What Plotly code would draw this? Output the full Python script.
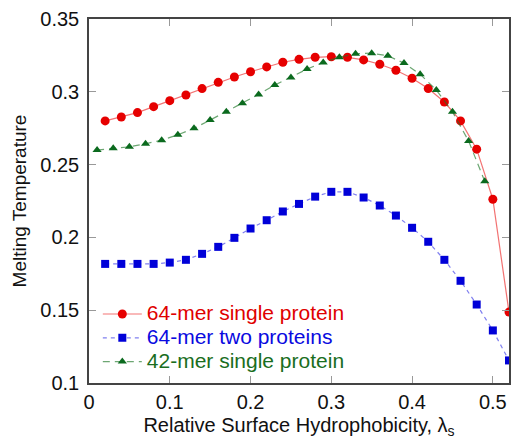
import plotly.graph_objects as go

# ---- data ----
x_even = [0.02, 0.04, 0.06, 0.08, 0.10, 0.12, 0.14, 0.16, 0.18, 0.20, 0.22, 0.24, 0.26,
          0.28, 0.30, 0.32, 0.34, 0.36, 0.38, 0.40, 0.42, 0.44, 0.46, 0.48, 0.50, 0.52]
y_single64 = [0.2800, 0.2827, 0.2857, 0.2898, 0.2939, 0.2978, 0.3022, 0.3065, 0.3102, 0.3138,
              0.3171, 0.3203, 0.3223, 0.3237, 0.3241, 0.3237, 0.3219, 0.3189, 0.3148, 0.3093,
              0.3022, 0.2930, 0.2800, 0.2606, 0.2262, 0.1487]
y_two64 = [0.1818, 0.1818, 0.1818, 0.1818, 0.1827, 0.1846, 0.1887, 0.1935, 0.1997, 0.2061,
           0.2118, 0.2178, 0.2230, 0.2280, 0.2313, 0.2313, 0.2274, 0.2219, 0.2150, 0.2066,
           0.1970, 0.1846, 0.1702, 0.1539, 0.1361, 0.1155]
x_odd = [0.01, 0.03, 0.05, 0.07, 0.09, 0.11, 0.13, 0.15, 0.17, 0.19, 0.21, 0.23, 0.25,
         0.27, 0.29, 0.31, 0.33, 0.35, 0.37, 0.39, 0.41, 0.43, 0.45, 0.47, 0.49]
y_single42 = [0.2600, 0.2613, 0.2622, 0.2643, 0.2668, 0.2705, 0.2749, 0.2806, 0.2863, 0.2922,
              0.2982, 0.3046, 0.3099, 0.3156, 0.3202, 0.3238, 0.3261, 0.3265, 0.3247, 0.3197,
              0.3121, 0.3012, 0.2863, 0.2662, 0.2385]

names = ["64-mer single protein", "64-mer two proteins", "42-mer single protein"]
text_colors = ["#e00000", "#0a0ae0", "#1a6e1e"]
x_ticks = [0, 0.1, 0.2, 0.3, 0.4, 0.5]
x_tick_text = ["0", "0.1", "0.2", "0.3", "0.4", "0.5"]
y_ticks = [0.1, 0.15, 0.2, 0.25, 0.3, 0.35]
y_tick_text = ["0.1", "0.15", "0.2", "0.25", "0.3", "0.35"]

FONT = "Liberation Sans, Arial, sans-serif"


def legend_name(i):
    return '<span style="font-size:21px;color:%s">%s</span>' % (text_colors[i], names[i])


fig = go.Figure()
fig.add_trace(go.Scatter(
    x=x_even, y=y_single64, name=legend_name(0), mode="lines+markers",
    line=dict(color="rgba(235,40,40,0.65)", width=1.2),
    marker=dict(symbol="circle", size=9, color="#e60000"),
    cliponaxis=False,
))
fig.add_trace(go.Scatter(
    x=x_even, y=y_two64, name=legend_name(1), mode="lines+markers",
    line=dict(color="rgba(60,60,230,0.65)", width=1.2, dash="4px,4px"),
    marker=dict(symbol="square", size=8, color="#0000d8"),
    cliponaxis=False,
))
fig.add_trace(go.Scatter(
    x=x_odd, y=y_single42, name=legend_name(2), mode="lines+markers",
    line=dict(color="rgba(30,120,40,0.65)", width=1.2, dash="7px,5px"),
    marker=dict(symbol="triangle-up", size=8, color="#0b6a1e"),
    cliponaxis=False,
))

axis_common = dict(
    showline=True, linecolor="#444444", linewidth=1.5, mirror="ticks",
    ticks="inside", ticklen=7, tickcolor="#999999", tickwidth=1,
    showgrid=False, zeroline=False,
    tickfont=dict(family=FONT, size=20, color="#111111"),
)

fig.update_xaxes(
    range=[0, 0.52], tickvals=x_ticks, ticktext=x_tick_text,
    title=dict(text="Relative Surface Hydrophobicity, λ<sub>s</sub>",
               font=dict(family=FONT, size=20, color="#111111"), standoff=6),
    **axis_common,
)
fig.update_yaxes(
    range=[0.1, 0.35], tickvals=y_ticks, ticktext=y_tick_text,
    title=dict(text="Melting Temperature",
               font=dict(family=FONT, size=19, color="#111111"), standoff=9),
    ticklabelstandoff=4,
    **axis_common,
)

fig.update_layout(
    width=511, height=445,
    margin=dict(l=89, r=0, t=19, b=62),
    paper_bgcolor="white", plot_bgcolor="white",
    showlegend=True,
    legend=dict(
        x=0.021, y=0.236, xanchor="left", yanchor="top",
        bgcolor="rgba(0,0,0,0)", borderwidth=0,
        font=dict(family=FONT, size=16),
        tracegroupgap=0, itemwidth=39,
    ),
)

fig.write_html("out.html")
